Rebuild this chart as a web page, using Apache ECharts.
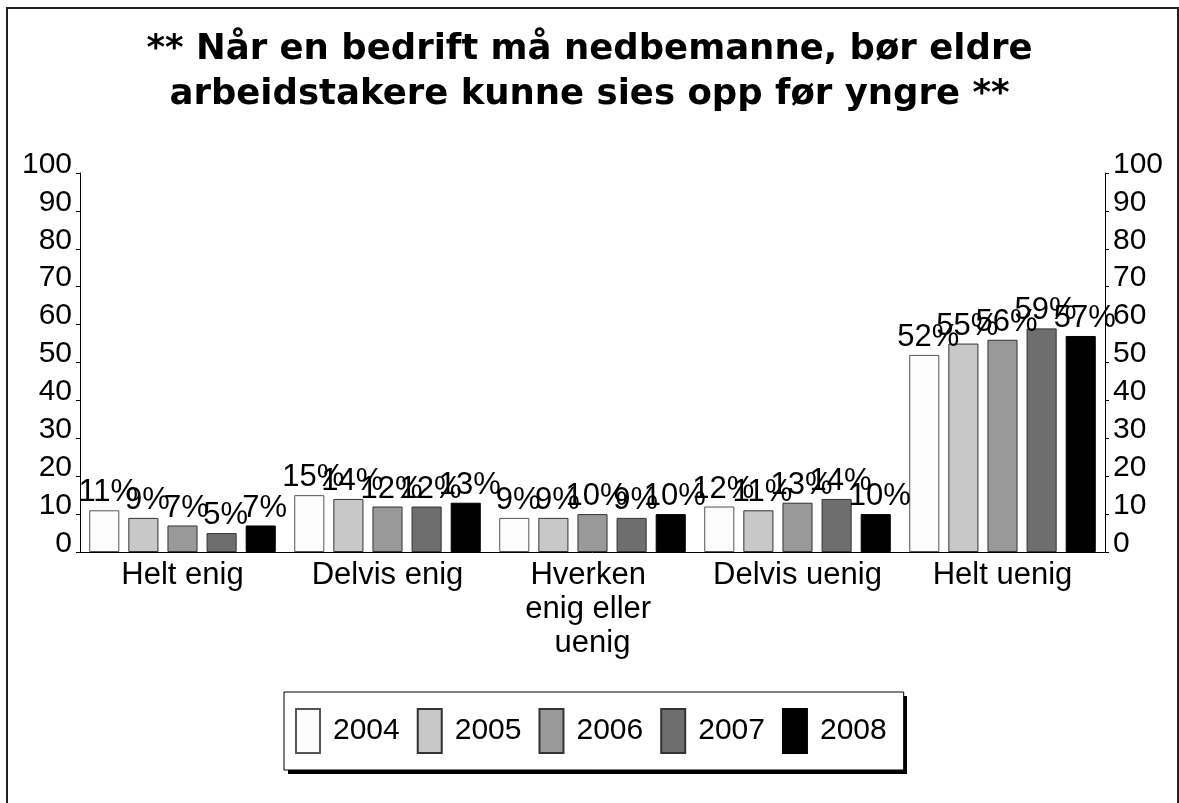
<!DOCTYPE html>
<html>
<head>
<meta charset="utf-8">
<script src="https://cdn.jsdelivr.net/npm/echarts@6/dist/echarts.min.js"></script>
<style>
  html, body { margin: 0; padding: 0; background: #fff; }
  #surveyChart { width: 1179px; height: 803px; }
</style>
</head>
<body>
<div id="surveyChart"></div>
<script>
// svaralternativer (kategorier)
const categories = ['Helt enig', 'Delvis enig', 'Hverken enig eller uenig', 'Delvis uenig', 'Helt uenig']
const years = ['2004', '2005', '2006', '2007', '2008']
// andel i prosent per år
const values2004 = [11, 15, 9, 12, 52]
const values2005 = [9, 14, 9, 11, 55]
const values2006 = [7, 12, 10, 13, 56]
const values2007 = [5, 12, 9, 14, 59]
const values2008 = [7, 13, 10, 10, 57]
const yTicks = [0, 10, 20, 30, 40, 50, 60, 70, 80, 90, 100]

const seriesValues = [values2004, values2005, values2006, values2007, values2008]
const fills = ['#fcfcfc', '#c8c8c8', '#999999', '#6e6e6e', '#000000']
const borders = ['#555555', '#333333', '#333333', '#333333', '#000000']
const font = 'Liberation Sans, Arial, sans-serif'

const valueAxis = (pos) => ({
  type: 'value',
  position: pos,
  min: yTicks[0],
  max: yTicks[yTicks.length - 1],
  interval: 10,
  splitLine: { show: false },
  axisLine: { show: true, lineStyle: { color: '#000', width: 1 } },
  axisTick: { show: true, length: 4, lineStyle: { color: '#000' } },
  axisLabel: {
    color: '#000',
    fontSize: 30,
    fontFamily: font,
    margin: 8,
    verticalAlign: 'bottom',
    lineHeight: 17,
  },
})

const option = {
  animation: false,
  backgroundColor: '#fff',
  title: {
    text: '** Når en bedrift må nedbemanne, bør eldre\narbeidstakere kunne sies opp før yngre **',
    left: 'center',
    top: 27,
    padding: 0,
    textStyle: {
      fontFamily: 'DejaVu Sans, sans-serif',
      fontWeight: 'bold',
      fontSize: 35.5,
      lineHeight: 45,
      color: '#000',
      align: 'center',
    },
  },
  graphic: [
    {
      type: 'rect',
      shape: { x: 7, y: 8, width: 1171, height: 820 },
      style: { fill: 'none', stroke: '#222', lineWidth: 2 },
      silent: true,
      z: -1,
    },
    // skygge bak legendboksen
    {
      type: 'rect',
      shape: { x: 288, y: 696, width: 619, height: 78 },
      style: { fill: '#000' },
      silent: true,
      z: 1,
    },
  ],
  legend: {
    data: years,
    left: 284,
    top: 692,
    orient: 'horizontal',
    padding: [16, 17, 16, 11],
    itemWidth: 24,
    itemHeight: 44,
    itemGap: 17,
    icon: 'rect',
    backgroundColor: '#fff',
    borderColor: '#000',
    borderWidth: 1,
    z: 5,
    textStyle: {
      fontSize: 30,
      fontFamily: font,
      color: '#000',
      padding: [0, 0, 0, 8],
    },
  },
  grid: {
    left: 80,
    right: 74,
    top: 173,
    bottom: 251,
  },
  xAxis: {
    type: 'category',
    data: categories,
    axisLine: { show: true, lineStyle: { color: '#000', width: 1 } },
    axisTick: { show: false },
    axisLabel: {
      interval: 0,
      color: '#000',
      fontSize: 31,
      fontFamily: font,
      lineHeight: 34,
      margin: 6,
      width: 172,
      overflow: 'break',
      align: 'center',
    },
  },
  yAxis: [valueAxis('left'), valueAxis('right')],
  series: years.map((y, i) => ({
    name: y,
    type: 'bar',
    yAxisIndex: 0,
    data: seriesValues[i],
    barGap: '30%',
    barCategoryGap: '9%',
    itemStyle: {
      color: fills[i],
      borderColor: borders[i],
      borderWidth: 1,
    },
    label: {
      show: true,
      position: 'top',
      distance: 2,
      offset: [4, 0],
      formatter: '{c}%',
      color: '#000',
      fontSize: 31,
      fontFamily: font,
    },
  })),
}

const chart = echarts.init(document.getElementById('surveyChart'))
chart.setOption(option)
window.addEventListener('resize', function () {
  chart.resize()
})
</script>
</body>
</html>
